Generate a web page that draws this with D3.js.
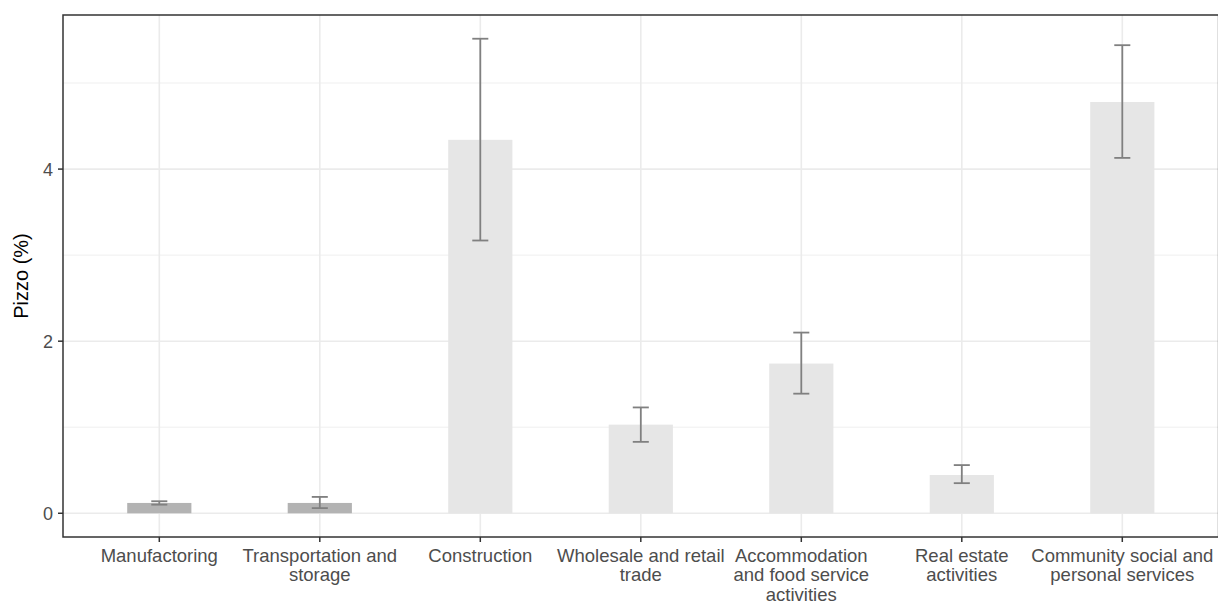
<!DOCTYPE html>
<html>
<head>
<meta charset="utf-8">
<script src="https://cdn.jsdelivr.net/npm/d3@7"></script>
<style>
html,body{margin:0;padding:0;background:#fff;}
svg{display:block;font-family:"Liberation Sans",Arial,sans-serif;}
</style>
</head>
<body>
<svg id="chart" width="1218" height="604"></svg>
<script>
const categories = [
  "Manufactoring",
  "Transportation and\nstorage",
  "Construction",
  "Wholesale and retail\ntrade",
  "Accommodation\nand food service\nactivities",
  "Real estate\nactivities",
  "Community social and\npersonal services"
];
const values = [0.12, 0.12, 4.34, 1.03, 1.74, 0.445, 4.78];
const lower  = [0.10, 0.06, 3.17, 0.83, 1.39, 0.35, 4.13];
const upper  = [0.14, 0.19, 5.515, 1.23, 2.10, 0.56, 5.44];
const highlighted = [true, true, false, false, false, false, false];
const yTicks = [0, 2, 4];
const yMinor = [1, 3, 5];
const yTitle = "Pizzo (%)";

(function () {
const svg = d3.select("#chart");
const mLeft = 63, mTop = 15, mBottom = 537;
const step = 160.5;
const mRight = mLeft + step * 7.2;

const x = d3.scaleLinear().domain([0.4, 7.6]).range([mLeft, mRight]);
const ymax = d3.max(upper), ymin = 0;
const pad = (ymax - ymin) * 0.05;
const y = d3.scaleLinear().domain([ymin - pad, ymax + pad]).range([mBottom, mTop]);

const data = categories.map((c, i) => ({c, i: i + 1, v: values[i], lo: lower[i], hi: upper[i], h: highlighted[i]}));

// grid
const g = svg.append("g");
g.selectAll("line.minor").data(yMinor).join("line")
  .attr("x1", mLeft).attr("x2", mRight)
  .attr("y1", d => y(d)).attr("y2", d => y(d))
  .attr("stroke", "#ebebeb").attr("stroke-width", 0.8);
g.selectAll("line.major").data(yTicks).join("line")
  .attr("x1", mLeft).attr("x2", mRight)
  .attr("y1", d => y(d)).attr("y2", d => y(d))
  .attr("stroke", "#ebebeb").attr("stroke-width", 1.6);
g.selectAll("line.vx").data(data).join("line")
  .attr("x1", d => x(d.i)).attr("x2", d => x(d.i))
  .attr("y1", mTop).attr("y2", mBottom)
  .attr("stroke", "#ebebeb").attr("stroke-width", 1.6);

// bars
svg.append("g").selectAll("rect").data(data).join("rect")
  .attr("x", d => x(d.i - 0.2))
  .attr("width", d => x(d.i + 0.2) - x(d.i - 0.2))
  .attr("y", d => y(d.v))
  .attr("height", d => y(0) - y(d.v))
  .attr("fill", d => d.h ? "#b3b3b3" : "#e6e6e6");

// error bars
const eb = svg.append("g").attr("stroke", "#808080").attr("stroke-width", 1.8).attr("fill", "none");
data.forEach(d => {
  eb.append("line").attr("x1", x(d.i)).attr("x2", x(d.i)).attr("y1", y(d.lo)).attr("y2", y(d.hi));
  eb.append("line").attr("x1", x(d.i - 0.05)).attr("x2", x(d.i + 0.05)).attr("y1", y(d.lo)).attr("y2", y(d.lo));
  eb.append("line").attr("x1", x(d.i - 0.05)).attr("x2", x(d.i + 0.05)).attr("y1", y(d.hi)).attr("y2", y(d.hi));
});

// border
svg.append("rect").attr("x", mLeft).attr("y", mTop)
  .attr("width", mRight - mLeft).attr("height", mBottom - mTop)
  .attr("fill", "none").attr("stroke", "#333333").attr("stroke-width", 1.5);

// y axis
const yAxis = svg.append("g");
yAxis.selectAll("line").data(yTicks).join("line")
  .attr("x1", mLeft - 5).attr("x2", mLeft)
  .attr("y1", d => y(d)).attr("y2", d => y(d))
  .attr("stroke", "#333333").attr("stroke-width", 1.5);
yAxis.selectAll("text").data(yTicks).join("text")
  .attr("x", mLeft - 10).attr("y", d => y(d))
  .attr("dy", "0.36em").attr("text-anchor", "end")
  .attr("font-size", 18).attr("fill", "#4d4d4d")
  .text(d => d);

// x axis
const xAxis = svg.append("g");
xAxis.selectAll("line").data(data).join("line")
  .attr("x1", d => x(d.i)).attr("x2", d => x(d.i))
  .attr("y1", mBottom).attr("y2", mBottom + 5)
  .attr("stroke", "#333333").attr("stroke-width", 1.5);
xAxis.selectAll("text").data(data).join("text")
  .attr("x", d => x(d.i)).attr("y", 561.5)
  .attr("text-anchor", "middle").attr("font-size", 18.5).attr("fill", "#4d4d4d")
  .each(function(d) {
    const t = d3.select(this);
    d.c.split("\n").forEach((s, k) => {
      t.append("tspan").attr("x", x(d.i)).attr("dy", k === 0 ? 0 : 19.5).text(s);
    });
  });

// y title
svg.append("text")
  .attr("transform", `translate(28,${(mTop + mBottom) / 2}) rotate(-90)`)
  .attr("text-anchor", "middle").attr("font-size", 20).attr("fill", "#000")
  .text(yTitle);
})();
</script>
</body>
</html>
